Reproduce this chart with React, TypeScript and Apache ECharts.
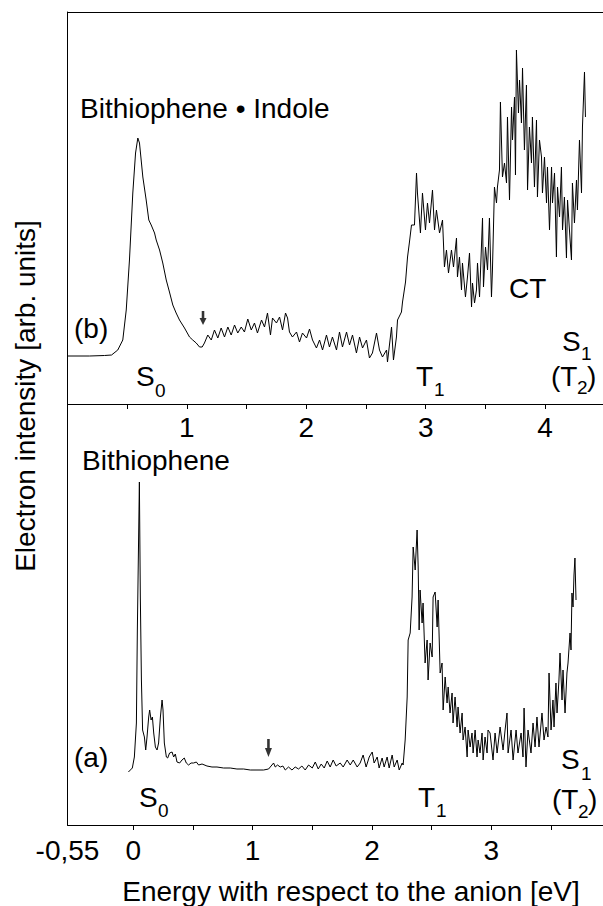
import React, { useEffect, useRef } from "react";
import * as echarts from "echarts";

// ---------- DATA ----------
// Panel (b): Bithiophene • Indole  (x: energy in eV, y: arbitrary intensity)
const topX = [
  0.000, 0.184, 0.310, 0.369, 0.421, 0.463, 0.492, 0.519, 0.547, 0.570,
  0.589, 0.603, 0.631, 0.659, 0.681, 0.701, 0.729, 0.743, 0.771, 0.798,
  0.827, 0.854, 0.882, 0.910, 0.938, 0.980, 1.022, 1.049, 1.078, 1.106,
  1.128, 1.147, 1.175, 1.204, 1.231, 1.259, 1.287, 1.315, 1.343, 1.371,
  1.399, 1.426, 1.455, 1.482, 1.510, 1.539, 1.566, 1.591, 1.625, 1.650,
  1.675, 1.700, 1.717, 1.750, 1.776, 1.801, 1.826, 1.843, 1.859, 1.884,
  1.918, 1.943, 1.968, 2.002, 2.027, 2.052, 2.085, 2.111, 2.136, 2.169,
  2.194, 2.219, 2.253, 2.278, 2.303, 2.337, 2.362, 2.387, 2.420, 2.446,
  2.471, 2.504, 2.529, 2.554, 2.588, 2.613, 2.638, 2.672, 2.680, 2.714,
  2.730, 2.755, 2.764, 2.797, 2.806, 2.831, 2.848, 2.864, 2.881, 2.906,
  2.923, 2.931, 2.956, 2.973, 2.998, 3.015, 3.032, 3.057, 3.074, 3.090,
  3.116, 3.141, 3.157, 3.174, 3.191, 3.216, 3.233, 3.258, 3.266, 3.283,
  3.300, 3.308, 3.333, 3.350, 3.367, 3.384, 3.392, 3.409, 3.425, 3.434,
  3.451, 3.476, 3.484, 3.501, 3.518, 3.534, 3.551, 3.559, 3.576, 3.593,
  3.601, 3.618, 3.626, 3.643, 3.660, 3.677, 3.685, 3.702, 3.719, 3.727,
  3.744, 3.752, 3.760, 3.777, 3.786, 3.802, 3.811, 3.827, 3.844, 3.853,
  3.869, 3.886, 3.894, 3.911, 3.928, 3.936, 3.953, 3.970, 3.978, 3.995,
  4.012, 4.020, 4.037, 4.054, 4.062, 4.079, 4.095, 4.104, 4.121, 4.137,
  4.146, 4.162, 4.179, 4.188, 4.204, 4.221, 4.229, 4.246, 4.263, 4.271,
  4.288, 4.305, 4.313, 4.330, 4.338,
];
const topY = [
  48, 48, 48.5, 49, 54, 64, 94, 144, 211, 251,
  266, 261, 227, 204, 184, 179, 171, 164, 154, 141,
  124, 112, 99, 91, 84, 76, 67, 64, 61, 57,
  57, 61, 69, 64, 74, 66, 76, 67, 77, 69,
  79, 71, 77, 72, 85, 74, 81, 71, 84, 77,
  91, 69, 86, 81, 87, 74, 91, 86, 72, 67,
  72, 62, 71, 66, 75, 64, 56, 64, 54, 69,
  57, 67, 54, 72, 57, 72, 59, 69, 51, 67,
  56, 64, 46, 51, 71, 54, 47, 54, 42, 77,
  44, 67, 84, 92, 102, 122, 147, 162, 179, 179,
  231, 211, 171, 211, 174, 201, 181, 214, 174, 194,
  171, 184, 137, 154, 131, 154, 137, 166, 127, 147,
  114, 141, 107, 127, 151, 97, 121, 101, 114, 141,
  107, 186, 117, 157, 134, 186, 107, 134, 217, 201,
  217, 234, 302, 227, 241, 221, 287, 204, 297, 264,
  307, 229, 354, 291, 324, 281, 336, 254, 319, 214,
  277, 241, 287, 217, 284, 207, 264, 247, 211, 247,
  201, 237, 174, 237, 201, 231, 147, 217, 187, 237,
  174, 207, 146, 204, 174, 144, 221, 181, 224, 194,
  264, 211, 277, 332, 287,
];

// Panel (a): Bithiophene
const bottomX = [
  -0.040, -0.007, 0.010, 0.027, 0.035, 0.052, 0.060, 0.069, 0.079, 0.094,
  0.105, 0.116, 0.130, 0.138, 0.150, 0.161, 0.172, 0.186, 0.200, 0.213,
  0.228, 0.242, 0.250, 0.261, 0.278, 0.289, 0.305, 0.326, 0.339, 0.353,
  0.367, 0.389, 0.409, 0.428, 0.445, 0.464, 0.485, 0.506, 0.529, 0.548,
  0.577, 0.618, 0.660, 0.702, 0.757, 0.813, 0.869, 0.925, 0.981, 1.037,
  1.092, 1.134, 1.162, 1.176, 1.190, 1.209, 1.232, 1.254, 1.274, 1.301,
  1.330, 1.357, 1.385, 1.413, 1.441, 1.469, 1.500, 1.525, 1.550, 1.575,
  1.600, 1.625, 1.650, 1.675, 1.700, 1.734, 1.759, 1.792, 1.818, 1.843,
  1.876, 1.901, 1.926, 1.951, 1.977, 2.002, 2.018, 2.044, 2.060, 2.085,
  2.102, 2.127, 2.144, 2.169, 2.186, 2.211, 2.228, 2.253, 2.261, 2.278,
  2.295, 2.303, 2.320, 2.336, 2.345, 2.362, 2.378, 2.387, 2.395, 2.403,
  2.420, 2.428, 2.445, 2.462, 2.470, 2.487, 2.504, 2.512, 2.529, 2.546,
  2.554, 2.571, 2.587, 2.596, 2.613, 2.629, 2.638, 2.654, 2.671, 2.679,
  2.696, 2.713, 2.721, 2.738, 2.755, 2.763, 2.780, 2.797, 2.805, 2.822,
  2.838, 2.847, 2.864, 2.880, 2.889, 2.905, 2.922, 2.931, 2.947, 2.964,
  2.972, 2.989, 3.014, 3.031, 3.048, 3.073, 3.098, 3.115, 3.131, 3.140,
  3.165, 3.182, 3.207, 3.223, 3.249, 3.265, 3.274, 3.290, 3.307, 3.332,
  3.349, 3.366, 3.382, 3.399, 3.424, 3.441, 3.458, 3.474, 3.483, 3.500,
  3.516, 3.525, 3.541, 3.550, 3.566, 3.575, 3.592, 3.600, 3.617, 3.633,
  3.642, 3.659, 3.667, 3.675, 3.684, 3.692, 3.700, 3.709,
];
const bottomY = [
  53, 57, 68, 102, 195, 343, 228, 145, 95, 88,
  75, 88, 108, 115, 105, 108, 92, 78, 75, 82,
  108, 125, 115, 82, 68, 67, 72, 73, 68, 71,
  63, 62, 65, 67, 62, 60, 62, 62, 63, 60,
  61, 59, 58, 58, 57, 57, 56, 56, 55, 55,
  55, 56, 60, 62, 58, 60, 58, 59, 55, 58,
  55, 58, 56, 59, 55, 60, 57, 63, 56, 61,
  57, 64, 58, 65, 59, 62, 58, 65, 60, 65,
  58, 62, 70, 58, 68, 73, 62, 68, 57, 67,
  58, 68, 57, 70, 58, 65, 55, 62, 60, 85,
  128, 185, 192, 228, 278, 255, 295, 258, 195, 235,
  202, 222, 162, 185, 145, 182, 168, 228, 233, 198,
  225, 152, 162, 115, 148, 122, 138, 112, 132, 102,
  128, 98, 118, 92, 112, 85, 98, 68, 95, 78,
  92, 72, 95, 68, 85, 72, 92, 65, 88, 72,
  95, 92, 65, 92, 72, 98, 75, 95, 112, 72,
  95, 65, 95, 72, 92, 68, 117, 58, 95, 72,
  102, 78, 108, 78, 112, 85, 98, 88, 152, 95,
  125, 98, 142, 112, 145, 172, 125, 155, 112, 152,
  162, 192, 175, 232, 218, 250, 267, 225,
];

// Axis ranges and ticks
const topRange = [0, 4.485];
const bottomRange = [-0.55, 3.935];
const topYRange = [0, 392];
const bottomYRange = [0, 421];
const topTicks = [0.5, 1, 1.5, 2, 2.5, 3, 3.5, 4];
const topTickLabels = [1, 2, 3, 4];
const bottomTicks = [0, 0.5, 1, 1.5, 2, 2.5, 3, 3.5];
const bottomTickLabels = [-0.55, 0, 1, 2, 3];

// Arrow markers (x in eV, y in arb. units)
const arrowTop = [1.135, 86];
const arrowBottom = [1.133, 77];

const FONT = '"Liberation Sans", Arial, Helvetica, sans-serif';
const ARROW = "path://M1.9,0 L4.1,0 L4.1,7 L6,7 L3,14 L0,7 L1.9,7 Z";

function txt(text: string, x: number, y: number, size: number, extra: any = {}) {
  return {
    type: "text",
    x,
    y,
    silent: true,
    ...extra,
    style: {
      text,
      fill: "#000",
      font: `${size}px ${FONT}`,
      textAlign: extra.align || "left",
      textVerticalAlign: "middle",
      align: extra.align || "left",
      verticalAlign: "middle",
    },
  };
}

export default function App() {
  const ref = useRef<HTMLDivElement>(null);

  useEffect(() => {
    if (!ref.current) return;
    const chart = echarts.init(ref.current, null, { renderer: "svg" });
    const axisLineStyle = { color: "#000", width: 1 };
    const labelStyle = { color: "#000", fontSize: 28, fontFamily: FONT };
    const option: any = {
      animation: false,
      backgroundColor: "#fff",
      grid: [
        { left: 67.5, right: 0, top: 12, height: 392 },
        { left: 67.5, right: 0, top: 404, height: 421 },
      ],
      xAxis: [
        {
          gridIndex: 0,
          type: "value",
          position: "bottom",
          min: topRange[0],
          max: topRange[1],
          axisLine: { show: true, onZero: false, lineStyle: axisLineStyle },
          axisTick: { show: true, inside: false, length: 5, customValues: topTicks, lineStyle: axisLineStyle },
          axisLabel: { show: true, margin: 9, customValues: topTickLabels, ...labelStyle },
          splitLine: { show: false },
        },
        {
          gridIndex: 0,
          type: "value",
          position: "top",
          min: topRange[0],
          max: topRange[1],
          axisLine: { show: true, onZero: false, lineStyle: axisLineStyle },
          axisTick: { show: false },
          axisLabel: { show: false },
          splitLine: { show: false },
        },
        {
          gridIndex: 1,
          type: "value",
          position: "bottom",
          min: bottomRange[0],
          max: bottomRange[1],
          axisLine: { show: true, onZero: false, lineStyle: axisLineStyle },
          axisTick: { show: true, inside: false, length: 5, customValues: bottomTicks, lineStyle: axisLineStyle },
          axisLabel: {
            show: true,
            margin: 11,
            customValues: bottomTickLabels,
            formatter: (v: number) => String(v).replace(".", ","),
            ...labelStyle,
          },
          splitLine: { show: false },
        },
      ],
      yAxis: [
        {
          gridIndex: 0,
          type: "value",
          min: topYRange[0],
          max: topYRange[1],
          axisLine: { show: true, onZero: false, lineStyle: axisLineStyle },
          axisTick: { show: false },
          axisLabel: { show: false },
          splitLine: { show: false },
        },
        {
          gridIndex: 1,
          type: "value",
          min: bottomYRange[0],
          max: bottomYRange[1],
          axisLine: { show: true, onZero: false, lineStyle: axisLineStyle },
          axisTick: { show: false },
          axisLabel: { show: false },
          splitLine: { show: false },
        },
      ],
      series: [
        {
          type: "line",
          xAxisIndex: 0,
          yAxisIndex: 0,
          data: topX.map((x, i) => [x, topY[i]]),
          showSymbol: false,
          symbol: "none",
          silent: true,
          lineStyle: { color: "#000", width: 1 },
        },
        {
          type: "line",
          xAxisIndex: 2,
          yAxisIndex: 1,
          data: bottomX.map((x, i) => [x, bottomY[i]]),
          showSymbol: false,
          symbol: "none",
          silent: true,
          lineStyle: { color: "#000", width: 1 },
        },
        {
          type: "scatter",
          xAxisIndex: 0,
          yAxisIndex: 0,
          data: [arrowTop],
          symbol: ARROW,
          symbolSize: [7, 14],
          silent: true,
          itemStyle: { color: "#000" },
        },
        {
          type: "scatter",
          xAxisIndex: 2,
          yAxisIndex: 1,
          data: [arrowBottom],
          symbol: ARROW,
          symbolSize: [7, 18],
          silent: true,
          itemStyle: { color: "#000" },
        },
      ],
      graphic: [
        // panel (b)
        txt("Bithiophene \u2022 Indole", 80, 108, 28),
        txt("(b)", 74, 328, 28),
        txt("S", 136, 376, 28),
        txt("0", 155, 390, 19),
        txt("T", 416, 376, 28),
        txt("1", 434, 389, 19),
        txt("CT", 509, 288, 28),
        txt("S", 562, 341, 28),
        txt("1", 581, 353, 19),
        txt("(T", 551, 376, 28),
        txt("2", 577, 387, 19),
        txt(")", 587, 376, 28),
        // panel (a)
        txt("Bithiophene", 82, 460, 28),
        txt("(a)", 74, 757, 28),
        txt("S", 139, 797, 28),
        txt("0", 158, 810, 19),
        txt("T", 418, 797, 28),
        txt("1", 436, 810, 19),
        txt("S", 561, 759, 28),
        txt("1", 581, 773, 19),
        txt("(T", 552, 799, 28),
        txt("2", 578, 811, 19),
        txt(")", 588, 799, 28),
        // axis titles
        txt("Energy with respect to the anion [eV]", 351, 891, 28, { align: "center" }),
        txt("Electron intensity [arb. units]", 25, 396, 28, { align: "center", rotation: Math.PI / 2 }),
      ],
    };
    chart.setOption(option);
    return () => chart.dispose();
  }, []);

  return (
    <div
      ref={ref}
      style={{ position: "fixed", left: 0, top: 0, width: 603, height: 906, background: "#fff" }}
    />
  );
}
